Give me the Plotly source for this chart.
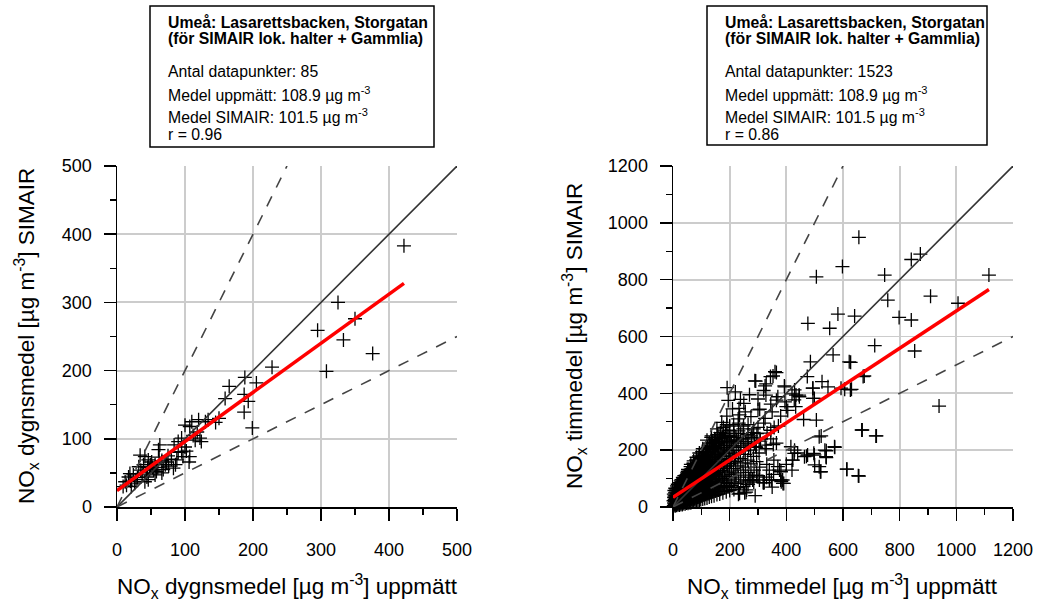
import plotly.graph_objects as go

# ---------------- data ----------------
daily_points = [
    (422, 383), (325, 300), (350, 276), (295, 259), (333, 245), (376, 225), (308, 199),
    (228, 205), (188, 190), (205, 182), (165, 177), (187, 165), (159, 159), (193, 155),
    (187, 139), (199, 116), (110, 125), (120, 128), (107, 118), (134, 128), (145, 124),
    (122, 101), (124, 96), (95, 101), (90, 96), (84, 91), (63, 91), (61, 84), (95, 81),
    (97, 74), (107, 74), (106, 66), (88, 69), (86, 62), (83, 57), (34, 76), (41, 74),
    (46, 69), (51, 66), (49, 62), (35, 54), (32, 59), (56, 62), (54, 54), (58, 52),
    (56, 47), (71, 62), (44, 44), (41, 37), (46, 40), (19, 49), (17, 44), (12, 37),
    (14, 32), (9, 30), (24, 47), (66, 68), (75, 75), (28, 40), (37, 47), (43, 50),
    (60, 58), (68, 55), (76, 60), (80, 70), (100, 88), (112, 105), (118, 110), (26, 35),
    (21, 30), (48, 55), (52, 58), (73, 66), (90, 80), (30, 43), (62, 73), (39, 62),
    (100, 120), (115, 98), (130, 125), (150, 130), (102, 82), (66, 50), (45, 58), (20, 38),
]

hourly_points = [
    # outliers / sparse region
    (656, 949), (598, 846), (506, 810), (747, 816), (841, 871), (873, 890), (1115, 816),
    (758, 728), (909, 742), (1006, 717), (798, 667), (841, 658), (476, 646), (582, 679),
    (641, 672), (553, 629), (712, 568), (853, 549), (565, 535), (485, 511), (627, 509),
    (671, 459), (474, 459), (365, 473), (353, 461), (292, 443), (191, 420), (329, 433),
    (526, 441), (547, 423), (494, 418), (606, 414), (630, 414), (394, 423), (429, 412),
    (445, 394), (494, 382), (939, 355), (238, 379), (233, 347), (235, 324), (306, 344),
    (365, 376), (400, 353), (433, 353), (461, 308), (506, 306), (668, 271), (718, 250),
    (571, 210), (523, 250), (541, 198), (541, 174), (471, 179), (497, 189), (500, 148),
    (520, 124), (614, 133), (656, 109), (421, 165), (429, 200), (376, 130), (382, 89),
    (388, 83), (347, 95), (318, 86), (271, 95), (253, 50), (235, 48), (289, 444),
    (360, 476), (344, 459), (325, 426), (328, 394), (393, 426), (434, 394), (428, 377),
    (446, 388), (493, 418), (499, 382), (593, 418), (626, 412), (675, 461), (622, 511),
    (516, 247), (570, 212), (536, 200), (540, 177), (499, 183), (516, 142), (522, 124),
    (475, 183), (464, 177), (666, 271), (716, 250), (613, 133), (654, 110), (370, 142),
    (381, 124), (387, 95), (391, 83), (340, 95), (322, 86), (281, 95), (258, 52),
    (231, 45), (416, 212), (423, 165), (428, 189),
    # medium-density region
    (195, 375), (220, 405), (250, 365), (270, 395), (300, 380), (320, 410), (345, 362),
    (370, 388), (395, 370), (420, 398), (190, 320), (210, 345), (230, 310), (255, 335),
    (275, 318), (300, 342), (325, 312), (350, 335), (380, 320), (405, 340), (158, 255),
    (172, 298), (185, 268), (200, 285), (215, 260), (232, 295), (248, 275), (265, 290),
    (282, 262), (300, 280), (320, 295), (345, 270), (372, 285), (120, 205), (128, 225),
    (135, 245), (142, 212), (150, 232), (160, 218), (170, 242), (180, 208), (190, 228),
    (200, 248), (212, 215), (225, 235), (238, 210), (250, 240), (262, 222), (278, 245),
    (292, 212), (308, 232), (325, 218), (345, 240), (365, 225), (260, 60), (290, 40),
    (320, 85), (350, 70), (380, 95), (300, 110), (340, 130), (400, 150), (420, 130),
    (440, 190),
    # dense cluster near the origin
    (3, 5), (4, 14), (2, 22), (4, 33), (3, 45), (5, 58),
    (8, 4), (9, 12), (7, 20), (9, 30), (8, 40), (10, 52), (8, 66),
    (13, 6), (12, 16), (14, 26), (13, 37), (15, 48), (12, 60), (14, 74),
    (18, 8), (19, 18), (17, 28), (20, 40), (18, 52), (19, 65), (17, 80),
    (23, 7), (22, 17), (24, 30), (23, 42), (25, 55), (22, 70), (24, 86),
    (28, 10), (29, 22), (27, 34), (30, 47), (28, 60), (29, 75), (27, 92),
    (33, 9), (34, 20), (32, 32), (35, 45), (33, 58), (34, 72), (32, 88), (35, 104),
    (38, 12), (39, 25), (37, 38), (40, 52), (38, 66), (39, 80), (37, 96), (40, 110),
    (43, 11), (44, 24), (42, 36), (45, 50), (43, 64), (44, 78), (42, 94), (45, 112),
    (48, 14), (49, 28), (47, 42), (50, 56), (48, 70), (49, 86), (47, 102), (50, 120),
    (53, 13), (54, 26), (52, 40), (55, 55), (53, 70), (54, 85), (52, 100), (55, 118), (53, 132),
    (58, 16), (59, 30), (57, 45), (60, 60), (58, 75), (59, 92), (57, 108), (60, 126),
    (63, 15), (64, 32), (62, 48), (65, 64), (63, 80), (64, 96), (62, 114), (65, 134), (63, 150),
    (68, 18), (69, 34), (67, 50), (70, 68), (68, 84), (69, 100), (67, 120), (70, 140),
    (73, 20), (74, 36), (72, 54), (75, 70), (73, 88), (74, 106), (72, 124), (75, 146), (73, 162),
    (78, 19), (79, 38), (77, 56), (80, 74), (78, 92), (79, 110), (77, 130), (80, 152),
    (83, 22), (84, 40), (82, 60), (85, 78), (83, 96), (84, 116), (82, 136), (85, 158), (83, 175),
    (88, 24), (89, 44), (87, 62), (90, 82), (88, 100), (89, 120), (87, 142), (90, 164),
    (93, 23), (94, 46), (92, 66), (95, 86), (93, 106), (94, 126), (92, 148), (95, 170), (93, 190),
    (98, 26), (99, 48), (97, 70), (100, 90), (98, 110), (99, 132), (97, 155), (100, 176),
    (105, 28), (106, 50), (104, 72), (107, 95), (105, 118), (106, 140), (104, 162), (107, 186),
    (105, 205),
    (112, 30), (113, 54), (111, 78), (114, 100), (112, 124), (113, 148), (111, 170), (114, 195),
    (120, 32), (121, 58), (119, 82), (122, 106), (120, 130), (121, 155), (119, 180), (122, 210),
    (120, 235),
    (128, 35), (129, 60), (127, 86), (130, 112), (128, 138), (129, 162), (127, 190), (130, 218),
    (136, 38), (137, 64), (135, 90), (138, 118), (136, 144), (137, 172), (135, 200), (138, 228),
    (136, 250),
    (145, 40), (146, 68), (144, 96), (147, 124), (145, 152), (146, 180), (144, 210), (147, 240),
    (155, 44), (156, 72), (154, 100), (157, 130), (155, 160), (156, 190), (154, 222), (157, 255),
    (155, 275),
    (165, 46), (166, 76), (164, 106), (167, 138), (165, 168), (166, 200), (164, 232), (167, 262),
    (176, 50), (177, 82), (175, 112), (178, 145), (176, 178), (177, 210), (175, 245), (178, 280),
    (188, 54), (189, 86), (187, 120), (190, 154), (188, 188), (189, 222), (187, 258), (190, 290),
    (200, 58), (201, 92), (199, 126), (202, 162), (200, 198), (201, 235), (199, 270),
    (215, 62), (216, 98), (214, 135), (217, 172), (215, 210), (216, 250), (214, 290),
    (230, 68), (231, 105), (229, 145), (232, 185), (230, 225), (231, 268),
    (248, 72), (249, 112), (247, 155), (250, 198), (248, 240), (249, 285),
    (265, 80), (266, 122), (264, 165), (267, 210), (265, 255),
    (285, 88), (286, 130), (284, 178), (287, 225), (285, 275),
    (305, 95), (306, 140), (304, 190), (307, 240),
    (330, 105), (331, 150), (329, 205), (332, 260),
    (355, 115), (356, 165), (354, 220), (357, 280),
    # second, interleaved layer of the dense cluster
    (6, 9), (6, 26), (5, 38), (7, 50),
    (11, 8), (11, 25), (10, 35), (12, 45), (11, 58),
    (16, 11), (16, 22), (15, 33), (17, 44), (16, 57), (16, 70),
    (21, 12), (21, 24), (20, 36), (22, 48), (21, 62), (21, 78),
    (26, 15), (26, 28), (25, 40), (27, 54), (26, 68), (26, 82),
    (31, 15), (31, 27), (30, 40), (32, 52), (31, 66), (31, 80), (30, 96),
    (36, 18), (36, 31), (35, 45), (37, 59), (36, 73), (36, 88), (35, 102),
    (41, 18), (41, 30), (40, 43), (42, 57), (41, 71), (41, 86), (40, 102),
    (46, 21), (46, 35), (45, 49), (47, 63), (46, 78), (46, 94), (45, 110),
    (51, 20), (51, 33), (50, 48), (52, 62), (51, 78), (51, 92), (50, 108), (52, 125),
    (56, 23), (56, 38), (55, 52), (57, 68), (56, 84), (56, 100), (55, 116),
    (61, 24), (61, 40), (60, 56), (62, 72), (61, 88), (61, 105), (60, 124), (62, 142),
    (66, 26), (66, 42), (65, 59), (67, 76), (66, 92), (66, 110), (65, 130),
    (71, 28), (71, 45), (70, 62), (72, 79), (71, 97), (71, 115), (70, 135), (72, 154),
    (76, 29), (76, 47), (75, 65), (77, 83), (76, 101), (76, 120), (75, 141),
    (81, 31), (81, 50), (80, 69), (82, 87), (81, 106), (81, 126), (80, 147), (82, 166),
    (86, 34), (86, 53), (85, 72), (87, 91), (86, 110), (86, 131), (85, 153),
    (91, 35), (91, 56), (90, 76), (92, 96), (91, 116), (91, 137), (90, 159), (92, 180),
    (96, 37), (96, 59), (95, 80), (97, 100), (96, 121), (96, 143), (95, 165),
    (102, 39), (102, 61), (101, 83), (103, 106), (102, 129), (102, 151), (101, 174), (103, 195),
    (109, 42), (109, 66), (108, 89), (110, 112), (109, 136), (109, 159), (108, 182),
    (116, 44), (116, 70), (115, 94), (117, 118), (116, 142), (116, 167), (115, 192),
    (124, 47), (124, 73), (123, 99), (125, 125), (124, 150), (124, 176), (123, 204),
    (132, 51), (132, 77), (131, 104), (133, 131), (132, 158), (132, 186), (131, 214),
    (140, 54), (140, 82), (139, 110), (141, 138), (140, 166), (140, 195), (139, 225),
    (150, 57), (150, 86), (149, 115), (151, 145), (150, 175), (150, 206), (149, 238),
    (160, 60), (160, 91), (159, 122), (161, 153), (160, 184), (160, 216), (159, 247),
    (170, 64), (170, 95), (169, 128), (171, 161), (170, 194), (170, 228),
    (182, 68), (182, 101), (181, 136), (183, 170), (182, 204), (182, 240),
    (194, 72), (194, 108), (193, 144), (195, 180), (194, 216), (194, 252),
    (207, 76), (207, 115), (206, 152), (208, 190), (207, 230),
    (222, 82), (222, 120), (221, 160), (223, 200), (222, 245),
    (239, 88), (239, 130), (238, 170), (240, 215), (239, 258),
    (256, 95), (256, 140), (255, 185), (257, 230),
    (275, 105), (275, 152), (274, 200), (276, 250),
    (295, 112), (295, 160), (294, 210), (296, 258),
]

# regression lines (intercept, slope)
daily_fit = (24.0, 0.72)
hourly_fit = (34.0, 0.656)

daily_ticks = [0, 100, 200, 300, 400, 500]
hourly_ticks = [0, 200, 400, 600, 800, 1000, 1200]

box_lines_daily = ["Antal datapunkter: 85", "Medel uppmätt: 108.9 µg m<sup>-3</sup>",
                   "Medel SIMAIR: 101.5 µg m<sup>-3</sup>", "r = 0.96"]
box_lines_hourly = ["Antal datapunkter: 1523", "Medel uppmätt: 108.9 µg m<sup>-3</sup>",
                    "Medel SIMAIR: 101.5 µg m<sup>-3</sup>", "r = 0.86"]
box_title = ["Umeå: Lasarettsbacken, Storgatan", "(för SIMAIR lok. halter + Gammlia)"]

# ---------------- figure ----------------
W, H = 1039, 603
FONT = "Liberation Sans, Arial, sans-serif"

def px(x):
    return x / W

def py(y):
    return 1 - y / H

fig = go.Figure()

panels = [
    dict(pts=daily_points, fit=daily_fit, vmax=500, ticks=daily_ticks, minor=50,
         xa="x", ya="y"),
    dict(pts=hourly_points, fit=hourly_fit, vmax=1200, ticks=hourly_ticks, minor=100,
         xa="x2", ya="y2"),
]

for p in panels:
    xs = [a for a, b in p["pts"]]
    ys = [b for a, b in p["pts"]]
    fig.add_trace(go.Scatter(
        x=xs, y=ys, mode="markers", xaxis=p["xa"], yaxis=p["ya"],
        marker=dict(symbol="cross-thin", size=10, color="black",
                    line=dict(width=1.3, color="black")),
        showlegend=False, hoverinfo="skip", cliponaxis=False))
    v = p["vmax"]
    fig.add_trace(go.Scatter(x=[0, v], y=[0, v], mode="lines", xaxis=p["xa"], yaxis=p["ya"],
                             line=dict(color="#333333", width=1.6), showlegend=False))
    fig.add_trace(go.Scatter(x=[0, v / 2], y=[0, v], mode="lines", xaxis=p["xa"], yaxis=p["ya"],
                             line=dict(color="#444444", width=1.6, dash="11px,10px"),
                             showlegend=False))
    fig.add_trace(go.Scatter(x=[0, v], y=[0, v / 2], mode="lines", xaxis=p["xa"], yaxis=p["ya"],
                             line=dict(color="#444444", width=1.6, dash="11px,10px"),
                             showlegend=False))
    b0, b1 = p["fit"]
    xmin, xmax = 0, max(xs)
    fig.add_trace(go.Scatter(x=[xmin, xmax], y=[b0 + b1 * xmin, b0 + b1 * xmax], mode="lines",
                             xaxis=p["xa"], yaxis=p["ya"],
                             line=dict(color="#ff0000", width=3.5), showlegend=False))

ydom = [py(507), py(166)]

def axis_common(p):
    return dict(range=[0, p["vmax"]], tickvals=p["ticks"], showgrid=True,
                gridcolor="#cccccc", gridwidth=1.8, zeroline=False,
                showline=True, linecolor="black", linewidth=1.5,
                ticks="outside", ticklen=12, tickwidth=1.5, tickcolor="black",
                minor=dict(dtick=p["minor"], ticks="outside", ticklen=6, tickwidth=1.3,
                           tickcolor="black", showgrid=False),
                tickfont=dict(family=FONT, size=18, color="black"),
                automargin=False, fixedrange=True)

fig.update_layout(
    xaxis=dict(domain=[px(117), px(457)], anchor="y", ticklabelstandoff=14,
               **axis_common(panels[0])),
    yaxis=dict(domain=ydom, anchor="x", ticklabelstandoff=8, **axis_common(panels[0])),
    xaxis2=dict(domain=[px(673), px(1013)], anchor="y2", ticklabelstandoff=14,
                **axis_common(panels[1])),
    yaxis2=dict(domain=ydom, anchor="x2", ticklabelstandoff=8, **axis_common(panels[1])),
    width=W, height=H, margin=dict(l=0, r=0, t=0, b=0, pad=0, autoexpand=False),
    paper_bgcolor="white", plot_bgcolor="white",
    font=dict(family=FONT, color="black"),
    hovermode=False,
)

annotations = []
shapes = []
TS = 22.5
annotations.append(dict(x=px(287), y=py(586), xref="paper", yref="paper", showarrow=False,
                        text="NO<sub>x</sub> dygnsmedel [µg m<sup>-3</sup>] uppmätt",
                        font=dict(size=TS), xanchor="center", yanchor="middle"))
annotations.append(dict(x=px(842), y=py(586), xref="paper", yref="paper", showarrow=False,
                        text="NO<sub>x</sub> timmedel [µg m<sup>-3</sup>] uppmätt",
                        font=dict(size=TS), xanchor="center", yanchor="middle"))
annotations.append(dict(x=px(26), y=py(336), xref="paper", yref="paper", showarrow=False,
                        text="NO<sub>x</sub> dygnsmedel [µg m<sup>-3</sup>] SIMAIR",
                        textangle=-90, font=dict(size=TS), xanchor="center", yanchor="middle"))
annotations.append(dict(x=px(574), y=py(336), xref="paper", yref="paper", showarrow=False,
                        text="NO<sub>x</sub> timmedel [µg m<sup>-3</sup>] SIMAIR",
                        textangle=-90, font=dict(size=TS), xanchor="center", yanchor="middle"))

for (bx0, bx1, by0, by1, lines) in [(150, 434, 6, 147, box_lines_daily),
                                    (707, 987, 6, 145, box_lines_hourly)]:
    shapes.append(dict(type="rect", xref="paper", yref="paper",
                       x0=px(bx0), x1=px(bx1), y0=py(by1), y1=py(by0),
                       line=dict(color="black", width=1.5), fillcolor="white"))
    tx = bx0 + 16
    for t, yy in zip(box_title, [22, 38]):
        annotations.append(dict(x=px(tx), y=py(yy), xref="paper", yref="paper",
                                showarrow=False, text="<b>" + t + "</b>",
                                font=dict(size=15.8), xanchor="left", yanchor="middle"))
    for t, yy in zip(lines, [71, 94, 116, 134]):
        annotations.append(dict(x=px(tx), y=py(yy), xref="paper", yref="paper",
                                showarrow=False, text=t,
                                font=dict(size=15.8), xanchor="left", yanchor="middle"))

fig.update_layout(annotations=annotations, shapes=shapes)
fig.write_html("out.html", config={"displayModeBar": False, "staticPlot": True},
               post_script="document.body.style.margin='0px';")
